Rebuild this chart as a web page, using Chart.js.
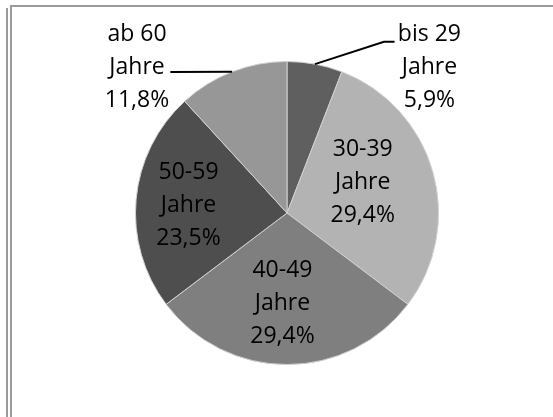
<!DOCTYPE html>
<html>
<head>
<meta charset="utf-8">
<script src="https://cdn.jsdelivr.net/npm/chart.js@4.4.1/dist/chart.umd.min.js"></script>
<style>
  html, body { margin: 0; padding: 0; background: #fff; overflow: hidden; }
  #wrap { position: relative; width: 553px; height: 417px; }
  .rule { position: absolute; background: #9a9a9a; }
  canvas { position: absolute; left: 0; top: 0; }
</style>
</head>
<body>
<div id="wrap">
  <div class="rule" style="left:6px; top:8px; width:2px; height:409px;"></div>
  <div class="rule" style="left:10px; top:5px; width:2px; height:412px;"></div>
  <div class="rule" style="left:10px; top:5px; width:543px; height:2px;"></div>
  <canvas id="ageChart" width="553" height="417"></canvas>
</div>
<script>
// Altersgruppen
const categories = ["bis 29\nJahre", "30-39\nJahre", "40-49\nJahre", "50-59\nJahre", "ab 60\nJahre"];
const shares = [5.9, 29.4, 29.4, 23.5, 11.8];
const sliceColors = ['#5f5f5f', '#b3b3b3', '#7f7f7f', '#4e4e4e', '#979797'];

// label placement, relative to pie center in units of radius
const labelSpots = [
  { dx: 0.94, dy: -0.96, leader: [[0.64, -1.13], [0.71, -1.13]] },
  { dx: 0.50, dy: -0.20 },
  { dx: -0.03, dy: 0.60 },
  { dx: -0.65, dy: -0.05 },
  { dx: -0.99, dy: -0.96, leader: [[-0.77, -0.93]] }
];

const fmt = (v) => v.toFixed(1).replace('.', ',') + '%';

const pieLabels = {
  id: 'pieLabels',
  afterDatasetsDraw(chart) {
    const ctx = chart.ctx;
    const meta = chart.getDatasetMeta(0);
    ctx.save();
    ctx.font = '23px "Open Sans"';
    ctx.fillStyle = '#000';
    ctx.textAlign = 'center';
    ctx.textBaseline = 'middle';
    meta.data.forEach((arc, i) => {
      const p = arc.getProps(['x', 'y', 'startAngle', 'endAngle', 'outerRadius'], true);
      const r = p.outerRadius;
      const spot = labelSpots[i];
      const lx = p.x + spot.dx * r;
      const ly = p.y + spot.dy * r;
      const lines = categories[i].split('\n').concat([fmt(shares[i])]);
      lines.forEach((t, k) => ctx.fillText(t, lx, ly + (k - 1) * 33));
      if (spot.leader) {
        const mid = (p.startAngle + p.endAngle) / 2;
        ctx.beginPath();
        ctx.strokeStyle = '#000';
        ctx.lineWidth = 2;
        ctx.moveTo(p.x + Math.cos(mid) * r, p.y + Math.sin(mid) * r);
        spot.leader.forEach(([ax, ay]) => ctx.lineTo(p.x + ax * r, p.y + ay * r));
        ctx.stroke();
      }
    });
    ctx.restore();
  }
};

const ageGraph = document.getElementById('ageChart');

let ageChart = new Chart(ageGraph, {
  type: 'pie',
  data: {
    labels: categories,
    datasets: [{
      data: shares,
      backgroundColor: sliceColors,
      borderColor: '#d0d0d0',
      borderWidth: 1
    }]
  },
  options: {
    responsive: false,
    animation: false,
    layout: { padding: { top: 61, bottom: 52, left: 135, right: 114 } },
    plugins: {
      legend: { display: false },
      tooltip: { enabled: false }
    }
  },
  plugins: [pieLabels]
});
</script>
</body>
</html>
